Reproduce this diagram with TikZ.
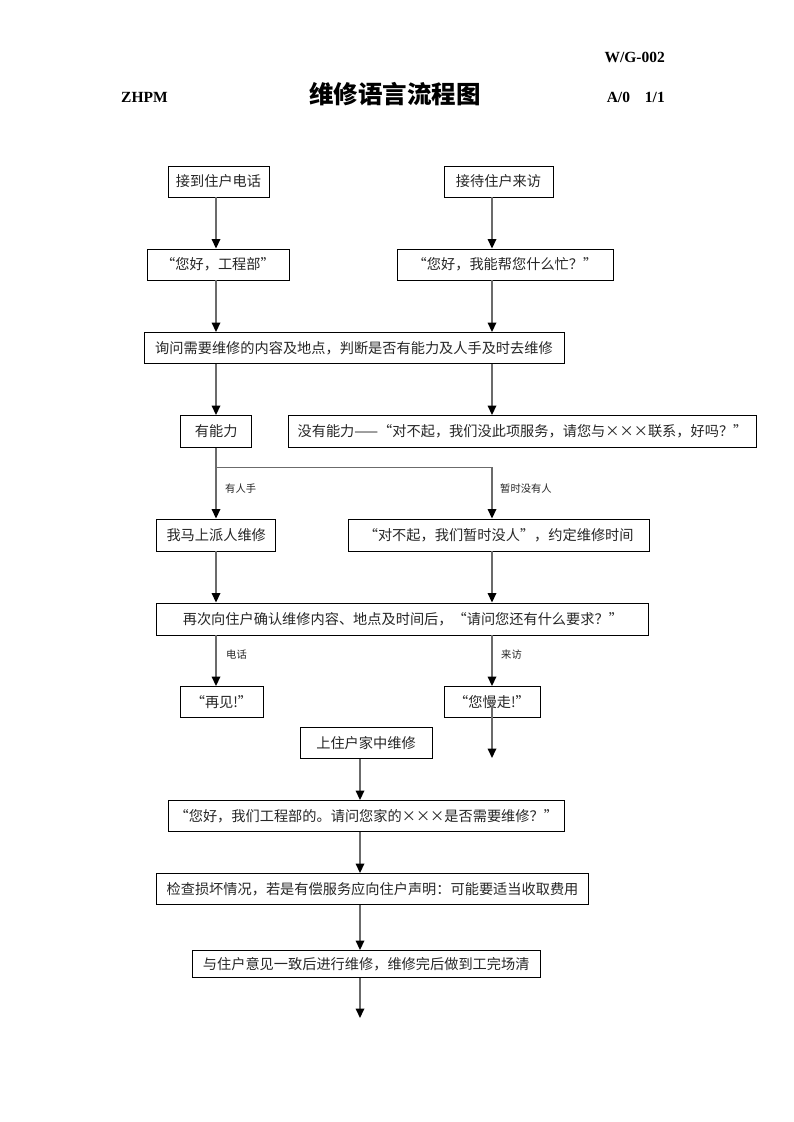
\documentclass[tikz,border=0pt]{standalone}
\usepackage{fontspec}
\setmainfont{Liberation Serif}
\newfontfamily\cjk{Noto Sans CJK SC}
\usetikzlibrary{arrows.meta}
\tikzset{
  box/.style={draw=black, line width=0.9pt, inner sep=0pt, minimum height=31pt,
    font=\cjk\fontsize{14.2}{16}\selectfont, text=black!85},
  lbl/.style={anchor=west, inner sep=0pt, font=\cjk\fontsize{10.3}{12}\selectfont, text=black!85},
  arr/.style={draw=black!58, line width=1.7pt,
    -{Triangle[width=8.5pt,length=9.5pt,color=black]}},
  hdr/.style={inner sep=0pt, font=\fontsize{15.5}{17}\selectfont\bfseries}
}
\begin{document}
\begin{tikzpicture}[x=1pt,y=-1pt]
\useasboundingbox (0,0) rectangle (793,1122);
\fill[white] (0,0) rectangle (793,1122);
% header
\node[hdr, anchor=east] (code) at (665,57) {W/G-002};
\node[hdr, anchor=west] (zhpm) at (121,97) {ZHPM};
\node[inner sep=0pt, font=\cjk\fontsize{24.5}{26}\selectfont\bfseries] (title) at (395,94) {维修语言流程图};
\node[hdr, anchor=east] (rev) at (665,97) {A/0\hspace{15pt}1/1};
% column coordinates
\coordinate (cl) at (216,0);
\coordinate (cr) at (492,0);
\coordinate (cm) at (360,0);
% boxes
\node[box, minimum width=101pt] (A) at (218.5,181.5) {接到住户电话};
\node[box, minimum width=109pt] (B) at (498.5,181.5) {接待住户来访};
\node[box, minimum width=142pt] (C) at (218,264.5) {“您好，工程部”};
\node[box, minimum width=216pt] (D) at (505,264.5) {“您好，我能帮您什么忙？”};
\node[box, minimum width=420pt] (E) at (354,348) {询问需要维修的内容及地点，判断是否有能力及人手及时去维修};
\node[box, minimum width=71pt, minimum height=32pt] (F) at (216.2,431.5) {有能力};
\node[box, minimum width=468pt, minimum height=32pt] (G) at (522.5,431.5) {没有能力——“对不起，我们没此项服务，请您与×××联系，好吗？”};
\node[box, minimum width=119pt, minimum height=32pt] (H) at (216.2,535) {我马上派人维修};
\node[box, minimum width=301pt, minimum height=32pt] (I) at (498.7,535) {“对不起，我们暂时没人”，约定维修时间};
\node[box, minimum width=492pt, minimum height=32pt] (J) at (402.9,619) {再次向住户确认维修内容、地点及时间后，“请问您还有什么要求？”};
\node[box, minimum width=83pt, minimum height=31pt] (K) at (221.5,702) {“再见!”};
\node[box, minimum width=96pt, minimum height=31pt] (L) at (492,702) {“您慢走!”};
\node[box, minimum width=132pt, minimum height=31pt] (M) at (366,743) {上住户家中维修};
\node[box, minimum width=396pt, minimum height=31pt] (N) at (366.3,816) {“您好，我们工程部的。请问您家的×××是否需要维修？”};
\node[box, minimum width=432pt, minimum height=31pt] (O) at (372.5,889) {检查损坏情况，若是有偿服务应向住户声明：可能要适当收取费用};
\node[box, minimum width=348pt, minimum height=27pt] (P) at (366.2,964) {与住户意见一致后进行维修，维修完后做到工完场清};
% labels
\node[lbl] (l1) at (225,489) {有人手};
\node[lbl] (l2) at (500,489) {暂时没有人};
\node[lbl] (l3) at (226,655) {电话};
\node[lbl] (l4) at (501,655) {来访};
% free ends
\coordinate (sl) at (216,467.5);
\coordinate (sr) at (492,467.5);
\coordinate (Lend) at (492,758);
\coordinate (Pend) at (360,1018);
% connectors
\draw[arr] (A.south -| cl) -- (C.north -| cl);
\draw[arr] (B.south -| cr) -- (D.north -| cr);
\draw[arr] (C.south -| cl) -- (E.north -| cl);
\draw[arr] (D.south -| cr) -- (E.north -| cr);
\draw[arr] (E.south -| cl) -- (F.north -| cl);
\draw[arr] (E.south -| cr) -- (G.north -| cr);
\draw[arr] (F.south -| cl) -- (H.north -| cl);
\draw[arr] (sl) -- (sr) -- (I.north -| cr);
\draw[arr] (H.south -| cl) -- (J.north -| cl);
\draw[arr] (I.south -| cr) -- (J.north -| cr);
\draw[arr] (J.south -| cl) -- (K.north -| cl);
\draw[arr] (J.south -| cr) -- (L.north -| cr);
\draw[arr] ([yshift=-4pt]L.center) -- (Lend);
\draw[arr] (M.south -| cm) -- (N.north -| cm);
\draw[arr] (N.south -| cm) -- (O.north -| cm);
\draw[arr] (O.south -| cm) -- (P.north -| cm);
\draw[arr] (P.south -| cm) -- (Pend);
\end{tikzpicture}
\end{document}
